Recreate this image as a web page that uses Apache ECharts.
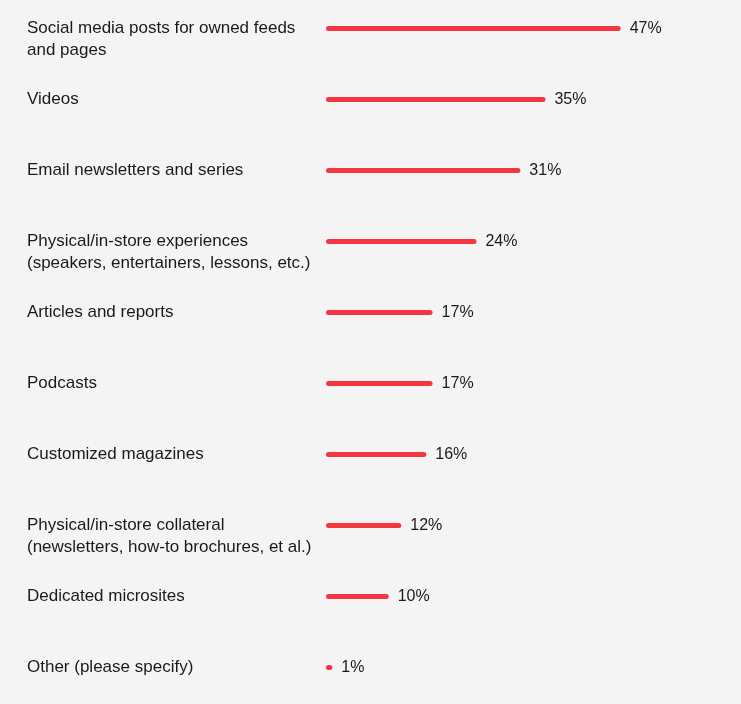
<!DOCTYPE html>
<html><head><meta charset="utf-8">
<script src="https://cdn.jsdelivr.net/npm/echarts@6/dist/echarts.min.js"></script>
<style>html,body{margin:0;padding:0;background:#f4f4f4;overflow:hidden;}#c{width:741px;height:711px;margin-top:-7px;}</style>
</head><body><div id="c"></div>
<script>
const categories = [
  "Social media posts for owned feeds\nand pages",
  "Videos",
  "Email newsletters and series",
  "Physical/in-store experiences\n(speakers, entertainers, lessons, etc.)",
  "Articles and reports",
  "Podcasts",
  "Customized magazines",
  "Physical/in-store collateral\n(newsletters, how-to brochures, et al.)",
  "Dedicated microsites",
  "Other (please specify)"
];
const values = [47, 35, 31, 24, 17, 17, 16, 12, 10, 1];

const chart = echarts.init(document.getElementById('c'));
chart.setOption({
  backgroundColor: '#f4f4f4',
  animation: false,
  grid: { left: 326, right: 20, top: 0, height: 710 },
  xAxis: { type: 'value', min: 0, max: 63, show: false },
  yAxis: {
    type: 'category', inverse: true, data: categories,
    axisLine: { show: false }, axisTick: { show: false },
    axisLabel: {
      align: 'left', margin: 299, color: '#1a1a1a',
      fontFamily: 'Liberation Sans, Arial, sans-serif', fontSize: 17, lineHeight: 22,
      formatter: function (v) { return v.indexOf('\n') >= 0 ? '\n' + v : v; }
    }
  },
  series: [{
    type: 'bar', data: values, barWidth: 5,
    itemStyle: { color: '#f43641', borderRadius: 2.5 },
    label: {
      show: true, position: 'right', distance: 9, formatter: '{c}%',
      color: '#1a1a1a', fontFamily: 'Liberation Sans, Arial, sans-serif', fontSize: 16
    }
  }]
});
</script></body></html>
